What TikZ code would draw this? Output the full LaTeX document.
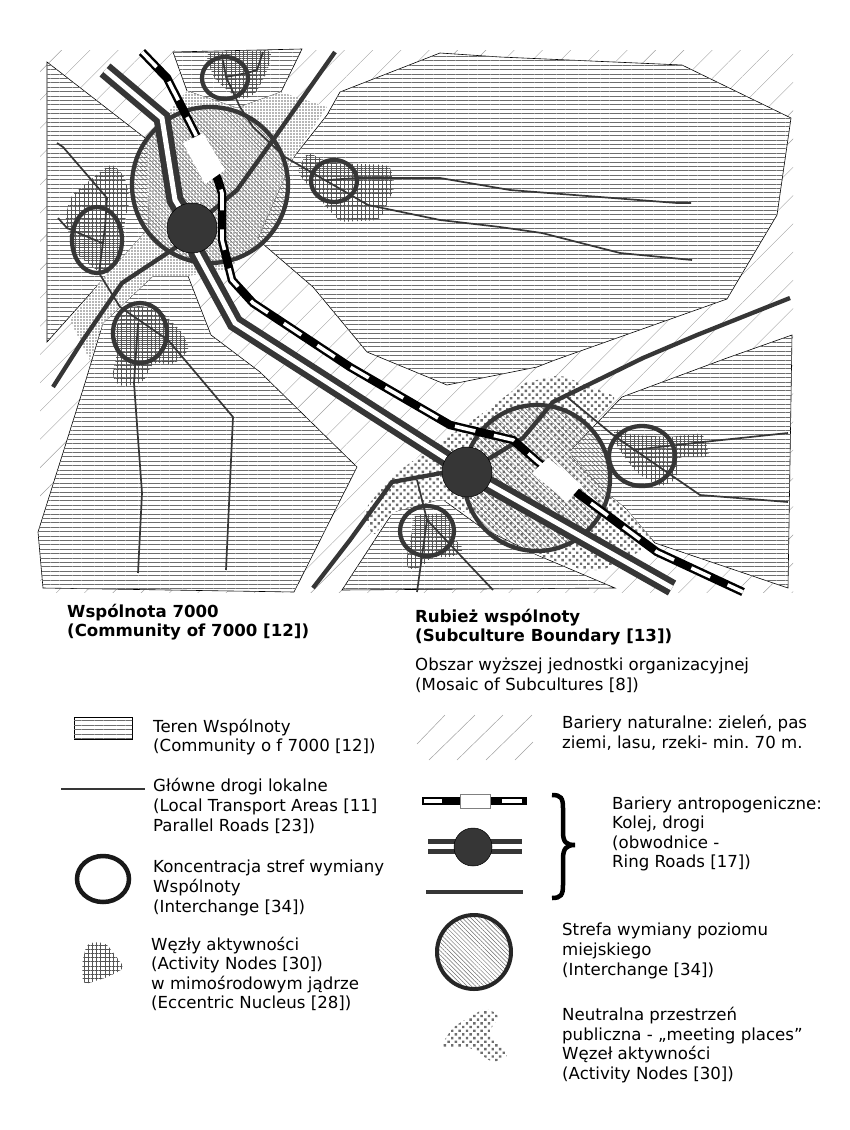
\documentclass[tikz,border=0pt]{standalone}
\usepackage{fontspec}
\setmainfont{DejaVu Sans}
\usetikzlibrary{patterns.meta}
\definecolor{ciemny}{HTML}{363636}
\definecolor{szary}{HTML}{6E6E6E}
\definecolor{sredni}{HTML}{555555}
\definecolor{jasny}{HTML}{A0A0A0}
\tikzset{
  teren/.style={fill=white,draw=black,line width=0.6pt,postaction={pattern={Lines[angle=0,distance=4.4pt,line width=0.6pt]},pattern color=szary}},
  bariera/.style={pattern={Lines[angle=45,distance=20pt,line width=0.4pt]},pattern color=jasny},
  barkreska/.style={jasny,line width=0.5pt},
  plac/.style={fill=white,postaction={pattern={Dots[distance=3pt,radius=0.85pt]},pattern color=szary}},
  placg/.style={fill=white,rounded corners=6pt,postaction={pattern={Dots[angle=45,distance=5.2pt,radius=1.7pt]},pattern color=szary}},
  wezel/.style={rounded corners=6pt,pattern={Hatch[angle=0,distance=4.2pt,line width=1pt]},pattern color=sredni},
  strefa/.style={preaction={pattern={Lines[angle=-45,distance=3pt,line width=0.5pt]},pattern color=szary}},
  ring/.style={draw=ciemny,line width=4.3pt},
  lokalna/.style={ciemny,line width=1.7pt},
  arteria/.style={ciemny,line width=4.3pt},
  dwupasm/.style={ciemny,line width=17pt},
  dwupaswh/.style={white,line width=5pt},
  kolej/.style={black,line width=8.5pt},
  kolejwh/.style={white,line width=3.6pt,dash pattern=on 21pt off 19pt},
  stacja/.style={fill=white},
  hub/.style={circle,fill=ciemny,draw=black,line width=0.5pt,minimum size=50pt,inner sep=0pt},
  opis/.style={anchor=west,align=left,inner sep=0pt,font=\frenchspacing\fontsize{16.6}{19.6}\selectfont},
  tytul/.style={opis,font=\frenchspacing\fontsize{16.6}{19.6}\selectfont\bfseries},
}
\begin{document}
\begin{tikzpicture}[x=1pt,y=-1pt]
  \useasboundingbox (0,0) rectangle (849,1130);
  \fill[bariera] (40,50) rectangle (793,592);
  \draw[teren] (47,62)--(145,138)--(148,140)--(149,228)--(47,342)--cycle;
  \draw[teren] (173,52)--(302,49)--(281,92)--(237,108)--(187,91)--cycle;
  \draw[teren] (340,92)--(440,53)--(500,57)--(682,65)--(791,118)--(777,215)--(727,299)--(555,360)--(537,367)--(447,385)--(367,352)--(313,287)--(263,244)--(258,238)--(293,158)--(327,115)--cycle;
  \draw[teren] (153,276)--(188,276)--(211,335)--(260,372)--(357,467)--(294,592)--(43,588)--(38,532)--(85,383)--(103,323)--cycle;
  \draw[teren] (342,590)--(393,512)--(442,499)--(482,528)--(537,555)--(615,588)--cycle;
  \draw[teren] (792,335)--(727,358)--(622,397)--(568,453)--(603,490)--(625,508)--(655,543)--(788,588)--cycle;
  \fill[plac] (187,91)--(237,108)--(281,92)--(327,107)--(293,158)--(258,238)--(263,244)--(225,270)--(188,276)--(153,276)--(103,323)--(90,360)--(70,320)--(102,280)--(149,228)--(147,140)--(165,115)--cycle;
  \fill[placg] (363,512)--(390,477)--(443,440)--(483,413)--(523,383)--(560,375)--(617,397)--(568,453)--(603,490)--(625,508)--(655,543)--(637,553)--(603,570)--(583,570)--(537,555)--(442,499)--(393,512)--(373,537)--cycle;
  \path[strefa] (210,185) circle (78);
  \path[strefa] (537,478) circle (73);
  \path[wezel] (207,52)--(272,50)--(268,70)--(255,95)--(240,100)--(215,80)--(207,60)--cycle;
  \path[wezel] (112,163)--(125,177)--(130,200)--(125,220)--(120,263)--(100,273)--(75,253)--(65,220)--(70,197)--(90,180)--cycle;
  \path[wezel] (307,152)--(330,163)--(390,165)--(395,187)--(380,220)--(340,222)--(323,203)--(297,172)--cycle;
  \path[wezel] (140,305)--(163,313)--(183,333)--(190,350)--(173,365)--(153,362)--(143,383)--(120,387)--(112,377)--(117,353)--(115,330)--(123,310)--cycle;
  \path[wezel] (613,428)--(633,435)--(670,437)--(703,433)--(710,457)--(677,457)--(677,480)--(660,487)--(637,473)--(617,447)--cycle;
  \path[wezel] (413,515)--(447,513)--(453,537)--(465,550)--(453,557)--(430,557)--(423,567)--(407,570)--(407,553)--(412,533)--cycle;
  \draw[lokalna] (263,52)--(257,70)--(247,73)--(226,77)--(240,107)--(253,127)--(285,157)--(368,205)--(440,220)--(500,227)--(542,233)--(620,253)--(692,260);
  \draw[lokalna] (223,60)--(226,77);
  \draw[lokalna] (327,180)--(357,178)--(440,178)--(510,190)--(677,203)--(691,203);
  \draw[lokalna] (57,143)--(63,147)--(107,198)--(105,227)--(99,273)--(120,307)--(168,340)--(233,417)--(226,570);
  \draw[lokalna] (138,323)--(134,383)--(142,493)--(138,573);
  \draw[lokalna] (58,218)--(67,228)--(102,243);
  \draw[lokalna] (417,480)--(427,520)--(417,592);
  \draw[lokalna] (427,520)--(493,590);
  \draw[lokalna] (567,397)--(613,435)--(700,495)--(788,502);
  \draw[lokalna] (633,450)--(703,442)--(788,433);
  \draw[ring] (210,185) circle (78);
  \draw[ring] (537,478) circle (73);
  \draw[arteria] (335,52)--(273,140)--(237,190)--(192,228)--(175,248)--(122,283)--(83,340)--(53,387);
  \draw[arteria] (790,298)--(697,335)--(643,358)--(553,402)--(523,438)--(467,472)--(442,473)--(392,482)--(350,540)--(313,588);
  \draw[dwupasm] (105,70)--(162,118)--(175,200)--(192,228)--(197,253)--(235,323)--(467,472)--(672,588);
  \draw[dwupaswh] (105,70)--(162,118)--(175,200)--(192,228)--(197,253)--(235,323)--(467,472)--(672,588);
  \draw[kolej] (142,52)--(167,78)--(195,133)--(218,180)--(222,193)--(222,240)--(232,280)--(253,303)--(350,367)--(450,425)--(513,440)--(538,462)--(580,495)--(657,552)--(743,592);
  \draw[kolejwh] (142,52)--(167,78)--(195,133)--(218,180)--(222,193)--(222,240)--(232,280)--(253,303)--(350,367)--(450,425)--(513,440)--(538,462)--(580,495)--(657,552)--(743,592);
  \fill[stacja] (183,143)--(203,133)--(225,170)--(205,184)--cycle;
  \fill[stacja] (532,473)--(548,458)--(582,485)--(567,502)--cycle;
  \node[hub] (hubgora) at (192,228) {};
  \node[hub] (hubdol) at (467,472) {};
  \draw[ring] (225,78) ellipse (23 and 21);
  \draw[ring] (97,240) ellipse (25 and 33);
  \draw[ring] (334,181) ellipse (23 and 21);
  \draw[ring] (140,333) ellipse (27 and 30);
  \draw[ring] (642,456) ellipse (33 and 30);
  \draw[ring] (427,531) ellipse (27 and 25);
  \node[tytul] (tyt1) at (67,622) {Wspólnota 7000\\(Community of 7000 [12])};
  \node[tytul] (tyt2) at (415,627) {Rubież wspólnoty\\(Subculture Boundary [13])};
  \node[opis] (obszar) at (415,675.5) {Obszar wyższej jednostki organizacyjnej\\(Mosaic of Subcultures [8])};
  \draw[teren] (74,717) rectangle (132,739);
  \node[opis] (op1) at (153,737) {Teren Wspólnoty\\(Community o f 7000 [12])};
  \draw[lokalna] (61,789)--(145,789);
  \node[opis] (op2) at (153,806) {Główne drogi lokalne\\(Local Transport Areas [11]\\Parallel Roads [23])};
  \draw[black!90,line width=4.5pt] (103,879) ellipse (26 and 23);
  \node[opis] (op3) at (153,888) {Koncentracja stref wymiany\\Wspólnoty\\(Interchange [34])};
  \path[wezel] (87,943)--(105,942)--(125,968)--(108,977)--(83,985)--(82,963)--cycle;
  \node[opis] (op4) at (151,974) {Węzły aktywności\\(Activity Nodes [30])\\w mimośrodowym jądrze\\(Eccentric Nucleus [28])};
  \draw[barkreska] (417,744)--(445,715);
  \draw[barkreska] (429,760)--(475,715);
  \draw[barkreska] (457,760)--(503,715);
  \draw[barkreska] (486,760)--(532,715);
  \draw[barkreska] (515,760)--(533,742);
  \node[opis] (op5) at (562,733) {Bariery naturalne: zieleń, pas\\ziemi, lasu, rzeki- min. 70 m.};
  \draw[black,line width=8pt] (422,801)--(527,801);
  \fill[white] (424,799) rectangle (442,803);
  \fill[white] (502,799) rectangle (522,803);
  \draw[fill=white,draw=gray] (460,794) rectangle (490,808);
  \draw[ciemny,line width=15.6pt] (428,846.5)--(522,846.5);
  \draw[white,line width=4.4pt] (428,846.5)--(522,846.5);
  \node[hub,minimum size=38pt] (hublegenda) at (473,847) {};
  \draw[arteria] (426,892)--(523,892);
  \draw[black,line width=4.5pt] (552,795) .. controls (561,795) and (563,798) .. (563,808) -- (563,832) .. controls (563,842) and (566,845) .. (575,845) .. controls (566,845) and (563,849) .. (563,859) -- (563,885) .. controls (563,895) and (561,898) .. (552,898);
  \node[opis] (op6) at (612,834) {Bariery antropogeniczne:\\Kolej, drogi\\(obwodnice -\\Ring Roads [17])};
  \draw[strefa,draw=black!85,line width=4pt] (474,952) circle (37);
  \node[opis] (op7) at (562,951) {Strefa wymiany poziomu\\miejskiego\\(Interchange [34])};
  \fill[placg] (485,1008)--(500,1015)--(488,1033)--(510,1055)--(493,1063)--(470,1047)--(440,1047)--(453,1027)--cycle;
  \node[opis] (op8) at (562,1045) {Neutralna przestrzeń\\publiczna - „meeting places”\\Węzeł aktywności\\(Activity Nodes [30])};
\end{tikzpicture}
\end{document}
